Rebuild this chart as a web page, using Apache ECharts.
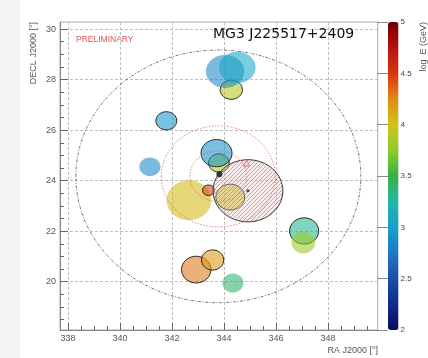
<!DOCTYPE html>
<html>
<head>
<meta charset="utf-8">
<script src="https://cdn.jsdelivr.net/npm/echarts@6/dist/echarts.min.js"></script>
<style>
  html, body { margin: 0; padding: 0; background: #fff; }
  #chart { width: 428px; height: 358px; }
</style>
</head>
<body>
<div id="chart"></div>
<script>
// Event regions: centre (RA, Dec) in degrees, radius in degrees, log10 E/GeV,
// and whether the region is drawn with a dark outline.
const evRa      = [344.28, 344.04, 344.51, 341.78, 341.15, 343.80, 343.71, 342.65, 343.40, 344.24, 342.93, 343.56, 344.34, 347.08, 347.05];
const evDec     = [ 27.60,  28.32,  28.48,  26.37,  24.55,  24.70,  25.09,  23.23,  23.62,  23.35,  20.48,  20.86,  19.95,  22.01,  21.55];
const evRadius  = [  0.38,   0.65,   0.62,   0.36,   0.37,   0.36,   0.54,   0.79,   0.21,   0.51,   0.53,   0.40,   0.38,   0.52,   0.43];
const evLogE    = [  3.90,   2.85,   3.05,   2.95,   2.85,   3.85,   2.90,   4.05,   4.45,   4.00,   4.30,   4.18,   3.40,   3.30,   3.80];
const evOutline = [     1,      0,      0,      1,      0,      1,      1,      0,      1,      1,      1,      1,      0,      1,      0];

// Hatched source-candidate region
const hatchRa = [344.92];
const hatchDec = [23.60];
const hatchRadius = [1.23];

// Concentric search regions around the catalogue position
const ringCentre = [343.78, 24.17];
const ringRadius = [5.0, 2.0, 1.0];
const ringKind = ['outer', 'red', 'red'];

// Point markers
const sourcePos = [343.82, 24.25];
const hatchCentrePos = [344.92, 23.60];
const redMarkerPos = [344.87, 24.69];

// Axis ranges and ticks
const raMin = 337.69, raMax = 349.91;
const decMin = 18.09, decMax = 30.28;
const raMajor = [338, 340, 342, 344, 346, 348];
const decMajor = [20, 22, 24, 26, 28, 30];
const raMinor = [];
for (let v = 338; v <= 349.5; v += 0.5) raMinor.push(v);
const decMinor = [];
for (let v = 18.5; v <= 30; v += 0.5) decMinor.push(v);

const eMin = 2, eMax = 5;
const palette = ['#0c0c5c', '#102a8c', '#1a4fa8', '#1f78c4', '#16a0cc', '#20b8a8',
                 '#38b048', '#90cc28', '#d0c418', '#e08a14', '#d83410', '#b81010', '#6e0000'];

const eventData = evRa.map((ra, i) => [ra, evDec[i], evRadius[i], evLogE[i], evOutline[i]]);
const hatchData = hatchRa.map((ra, i) => [ra, hatchDec[i], hatchRadius[i]]);
const ringData = ringRadius.map((r, i) => [ringCentre[0], ringCentre[1], r, i]);

// Diagonal hatch tile
function makeHatch() {
  const c = document.createElement('canvas');
  const n = 4;
  c.width = n; c.height = n;
  const g = c.getContext('2d');
  g.fillStyle = 'rgba(240,200,200,0.35)';
  g.fillRect(0, 0, n, n);
  g.strokeStyle = 'rgba(205,70,70,0.7)';
  g.lineWidth = 0.7;
  g.beginPath();
  g.moveTo(0, n); g.lineTo(n, 0);
  g.moveTo(-1, 1); g.lineTo(1, -1);
  g.moveTo(n - 1, n + 1); g.lineTo(n + 1, n - 1);
  g.stroke();
  return c;
}
const hatchTile = makeHatch();

function ellipseShape(api) {
  const ra = api.value(0), dec = api.value(1), r = api.value(2);
  const c = api.coord([ra, dec]);
  const s = api.size([r / Math.cos(dec * Math.PI / 180), r]);
  return { cx: c[0], cy: c[1], rx: s[0], ry: s[1] };
}

const font = '"Liberation Sans", Arial, sans-serif';

const chart = echarts.init(document.getElementById('chart'), null, { renderer: 'canvas' });
chart.setOption({
  animation: false,
  backgroundColor: '#fff',
  title: {
    text: 'MG3 J225517+2409',
    left: 213, top: 27, padding: 0,
    textStyle: { fontFamily: '"DejaVu Sans", sans-serif', fontSize: 14, fontWeight: 'normal', color: '#111' }
  },
  graphic: [
    { type: 'rect', silent: true, z: -10, shape: { x: 0, y: 0, width: 20, height: 358 }, style: { fill: '#f4f4f4' } },
    { type: 'text', x: 76, y: 40, style: { text: 'PRELIMINARY', fill: '#e05555', font: '8.5px ' + font, verticalAlign: 'middle' } },
    { type: 'text', x: 34, y: 22, rotation: Math.PI / 2, style: { text: 'DECL J2000 [°]', fill: '#555', font: '9px ' + font, align: 'right', verticalAlign: 'middle' } },
    { type: 'text', x: 378, y: 351, style: { text: 'RA J2000 [°]', fill: '#555', font: '9px ' + font, align: 'right', verticalAlign: 'middle' } },
    { type: 'text', x: 424, y: 22, rotation: Math.PI / 2, style: { text: 'log  E (GeV)', fill: '#555', font: '9px ' + font, align: 'right', verticalAlign: 'middle' } }
  ],
  visualMap: {
    type: 'continuous',
    min: eMin, max: eMax,
    dimension: 3,
    seriesIndex: 0,
    calculable: false,
    left: 388, top: 22,
    itemWidth: 10.5, itemHeight: 308,
    padding: 0,
    text: null,
    inRange: { color: palette }
  },
  grid: [
    { left: 60, top: 22, width: 317.7, height: 308, show: true, borderColor: '#aaa', borderWidth: 1, backgroundColor: 'transparent' },
    { left: 388, top: 22, width: 10.5, height: 308 }
  ],
  xAxis: [
    {
      gridIndex: 0, type: 'value', min: raMin, max: raMax, position: 'bottom',
      axisLine: { show: true, lineStyle: { color: '#888' } },
      axisTick: { inside: true, length: 7, customValues: raMajor, lineStyle: { color: '#666' } },
      axisLabel: { customValues: raMajor, margin: 4, fontSize: 9, color: '#555', fontFamily: font },
      splitLine: { show: true, lineStyle: { color: '#bdbdbd', type: [3, 2], width: 1 } }
    },
    {
      gridIndex: 0, type: 'value', min: raMin, max: raMax, position: 'bottom', offset: 0,
      axisLine: { show: false },
      axisTick: { inside: true, length: 4, customValues: raMinor, lineStyle: { color: '#666' } },
      axisLabel: { show: false },
      splitLine: { show: false }
    },
    { gridIndex: 1, type: 'value', show: false, min: 0, max: 1 }
  ],
  yAxis: [
    {
      gridIndex: 0, type: 'value', min: decMin, max: decMax, position: 'left',
      axisLine: { show: true, lineStyle: { color: '#888' } },
      axisTick: { inside: true, length: 8, customValues: decMajor, lineStyle: { color: '#666' } },
      axisLabel: { customValues: decMajor, margin: 4, fontSize: 9, color: '#555', fontFamily: font },
      splitLine: { show: true, lineStyle: { color: '#bdbdbd', type: [3, 2], width: 1 } }
    },
    {
      gridIndex: 0, type: 'value', min: decMin, max: decMax, position: 'left', offset: 0,
      axisLine: { show: false },
      axisTick: { inside: true, length: 4, customValues: decMinor, lineStyle: { color: '#666' } },
      axisLabel: { show: false },
      splitLine: { show: false }
    },
    {
      gridIndex: 1, type: 'value', min: eMin, max: eMax, interval: 0.5, position: 'right',
      axisLine: { show: false },
      axisTick: { inside: true, length: 10.5, lineStyle: { color: 'rgba(0,0,0,0.45)' } },
      axisLabel: { margin: 2, fontSize: 8, color: '#444', fontFamily: font },
      splitLine: { show: false }
    }
  ],
  series: [
    {
      type: 'custom', name: 'events', xAxisIndex: 0, yAxisIndex: 0, clip: true,
      data: eventData,
      encode: { x: 0, y: 1 },
      renderItem: function (params, api) {
        const col = api.visual('color');
        const outlined = api.value(4) === 1;
        return {
          type: 'ellipse',
          shape: ellipseShape(api),
          style: {
            fill: echarts.color.modifyAlpha(col, 0.58),
            stroke: outlined ? '#2a2a2a' : null,
            lineWidth: 1
          }
        };
      }
    },
    {
      type: 'custom', name: 'hatched', xAxisIndex: 0, yAxisIndex: 0, clip: true,
      data: hatchData,
      encode: { x: 0, y: 1 },
      renderItem: function (params, api) {
        return {
          type: 'ellipse',
          shape: ellipseShape(api),
          style: { fill: { image: hatchTile, repeat: 'repeat' }, stroke: '#3a3a3a', lineWidth: 1 }
        };
      }
    },
    {
      type: 'custom', name: 'rings', xAxisIndex: 0, yAxisIndex: 0, clip: true,
      data: ringData,
      encode: { x: 0, y: 1 },
      renderItem: function (params, api) {
        const outer = ringKind[api.value(3)] === 'outer';
        return {
          type: 'ellipse',
          shape: ellipseShape(api),
          style: {
            fill: null,
            stroke: outer ? '#555' : '#e07070',
            lineWidth: 0.8,
            lineDash: outer ? [3, 1.5, 1, 1.5] : [1.5, 1.5]
          }
        };
      }
    },
    {
      type: 'scatter', xAxisIndex: 0, yAxisIndex: 0,
      data: [sourcePos], symbol: 'circle', symbolSize: 6,
      itemStyle: { color: '#111' }, z: 5
    },
    {
      type: 'scatter', xAxisIndex: 0, yAxisIndex: 0,
      data: [hatchCentrePos], symbol: 'circle', symbolSize: 3,
      itemStyle: { color: '#222' }, z: 5
    },
    {
      type: 'scatter', xAxisIndex: 0, yAxisIndex: 0,
      data: [redMarkerPos], symbol: 'triangle', symbolSize: 6,
      itemStyle: { color: 'rgba(0,0,0,0)', borderColor: '#d05050', borderWidth: 0.8 }, z: 5
    }
  ]
});
</script>
</body>
</html>
